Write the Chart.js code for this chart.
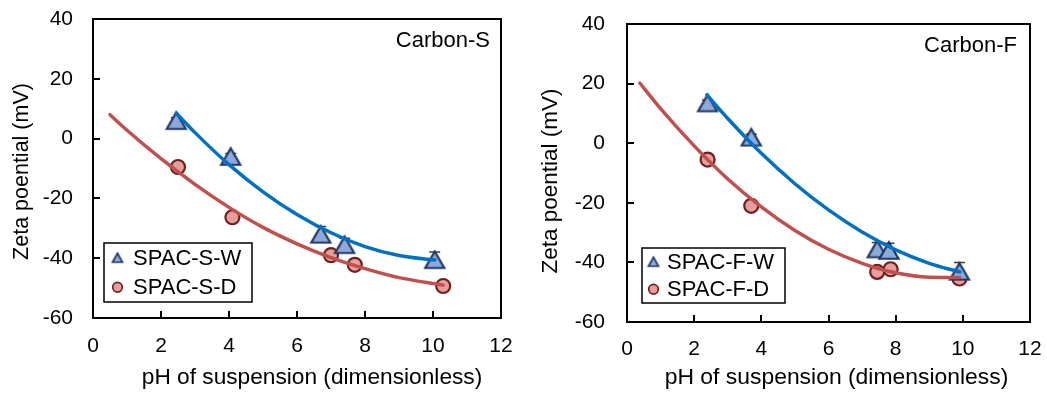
<!DOCTYPE html>
<html>
<head>
<meta charset="utf-8">
<script src="https://cdn.jsdelivr.net/npm/chart.js@4.4.1/dist/chart.umd.min.js"></script>
<style>
  html, body { margin: 0; padding: 0; background: #fff; }
  #wrap { position: relative; width: 1047px; height: 396px; overflow: hidden; }
  .panel { position: absolute; top: 0; }
  #left { left: 0; }
  #right { left: 524px; }
</style>
</head>
<body>
<div id="wrap">
  <div class="panel" id="left"><canvas id="chartS" width="524" height="396"></canvas></div>
  <div class="panel" id="right"><canvas id="chartF" width="523" height="396"></canvas></div>
</div>
<script>
// ---- axis ticks ----
const xTicks = [0, 2, 4, 6, 8, 10, 12];
const yTicks = [-60, -40, -20, 0, 20, 40];

// ---- Carbon-S measurements ----
const phSW   = [2.45, 4.05, 6.7, 7.4, 10.05];
const zetaSW = [6, -6, -32, -35.5, -40.5];
const errSW  = [1, 1, 2.6, 2.2, 2.6];
const phSD   = [2.5, 4.1, 7.0, 7.7, 10.3];
const zetaSD = [-9.5, -26.3, -39, -42.2, -49.3];

// Carbon-S polynomial trendlines
const trendSWx = [2.45, 3, 4, 5, 6, 7, 8, 9, 10.05];
const trendSWy = [8.5, 2.0, -8.7, -17.8, -25.4, -31.5, -36.1, -39.1, -40.6];
const trendSDx = [0.5, 1, 2, 3, 4, 5, 6, 7, 8, 9, 10.3];
const trendSDy = [8.0, 2.8, -6.7, -15.3, -23.0, -29.7, -35.2, -39.8, -43.5, -46.5, -49.0];

// ---- Carbon-F measurements ----
const phFW   = [2.4, 3.7, 7.45, 7.8, 9.9];
const zetaFW = [13.5, 2, -35.5, -36, -43];
const errFW  = [1, 1, 2.2, 2.4, 3];
const phFD   = [2.4, 3.7, 7.45, 7.85, 9.9];
const zetaFD = [-5.5, -21, -43.2, -42.3, -45.4];

// Carbon-F polynomial trendlines
const trendFWx = [2.38, 3, 4, 5, 6, 7, 8, 9, 9.91];
const trendFWy = [16.2, 8.3, -3.4, -13.6, -22.4, -29.8, -35.8, -40.3, -43.2];
const trendFDx = [0.38, 1, 2, 3, 4, 5, 6, 7, 8, 9, 9.91];
const trendFDy = [20.2, 11.6, -0.9, -12.0, -21.4, -29.3, -35.6, -40.3, -43.5, -45.0, -45.1];

// ---- axis titles ----
const xTitle = 'pH of suspension (dimensionless)';
const yTitle = 'Zeta poential (mV)';

// ---- styling ----
const FONT = '"Liberation Sans", Arial, Helvetica, sans-serif';
const BLUE_LINE = '#0070C0';
const RED_LINE = '#C0504D';
const TRI_FILL = '#8EAADB';
const TRI_EDGE = '#203864';
const DOT_FILL = '#E59E9C';
const DOT_EDGE = '#6E1F1F';

const pts = (xs, ys) => xs.map((x, i) => ({ x, y: ys[i] }));

// triangle marker centred on its bounding box
function triangleImage(w, h, lw) {
  const c = document.createElement('canvas');
  const pad = lw + 1;
  c.width = Math.ceil(w + 2 * pad);
  c.height = Math.ceil(h + 2 * pad);
  const g = c.getContext('2d');
  const cx = c.width / 2, cy = c.height / 2;
  g.beginPath();
  g.moveTo(cx, cy - h / 2);
  g.lineTo(cx + w / 2, cy + h / 2);
  g.lineTo(cx - w / 2, cy + h / 2);
  g.closePath();
  g.fillStyle = TRI_FILL;
  g.fill();
  g.lineWidth = lw;
  g.lineJoin = 'miter';
  g.strokeStyle = TRI_EDGE;
  g.stroke();
  return c;
}
const triMarker = triangleImage(19, 16.5, 2.2);
const triLegend = triangleImage(10, 9, 1.7);

// plot frame with inward tick marks
const framePlugin = {
  id: 'frame',
  afterDatasetsDraw(chart) {
    const { ctx, chartArea: a, scales: { x, y } } = chart;
    ctx.save();
    ctx.strokeStyle = '#000';
    ctx.lineWidth = 2;
    ctx.strokeRect(a.left, a.top, a.right - a.left, a.bottom - a.top);
    ctx.beginPath();
    x.ticks.forEach(t => {
      if (t.value > x.min && t.value < x.max) {
        const px = Math.round(x.getPixelForValue(t.value));
        ctx.moveTo(px, a.bottom);
        ctx.lineTo(px, a.bottom - 7);
      }
    });
    y.ticks.forEach(t => {
      if (t.value > y.min && t.value < y.max) {
        const py = Math.round(y.getPixelForValue(t.value));
        ctx.moveTo(a.left, py);
        ctx.lineTo(a.left + 7, py);
      }
    });
    ctx.stroke();
    ctx.restore();
  }
};

// upper error bars, drawn beneath the markers
const errorBarPlugin = {
  id: 'errorBars',
  beforeDatasetsDraw(chart) {
    const { ctx, scales: { x, y } } = chart;
    ctx.save();
    ctx.strokeStyle = '#3F3F3F';
    ctx.lineWidth = 1.5;
    chart.data.datasets.forEach(ds => {
      if (!ds.errors) return;
      ds.data.forEach((p, i) => {
        const px = x.getPixelForValue(p.x);
        const py = y.getPixelForValue(p.y);
        const top = y.getPixelForValue(p.y + ds.errors[i]);
        ctx.beginPath();
        ctx.moveTo(px, py);
        ctx.lineTo(px, top);
        ctx.moveTo(px - 5.5, top);
        ctx.lineTo(px + 5.5, top);
        ctx.stroke();
      });
    });
    ctx.restore();
  }
};

// axis titles, placed relative to the plot area
const axisTitlePlugin = {
  id: 'axisTitles',
  afterDraw(chart, args, o) {
    const { ctx, chartArea: a } = chart;
    ctx.save();
    ctx.fillStyle = '#000';
    ctx.textAlign = 'center';
    ctx.textBaseline = 'middle';
    ctx.font = `${o.xSize}px ${FONT}`;
    ctx.fillText(xTitle, (a.left + a.right) / 2 + o.xDx, o.xY);
    ctx.translate(o.yX, (a.top + a.bottom) / 2 + o.yDy);
    ctx.rotate(-Math.PI / 2);
    ctx.font = `${o.ySize}px ${FONT}`;
    ctx.fillText(yTitle, 0, 0);
    ctx.restore();
  }
};

// boxed legend inside the plot area + sample name label
const boxLegendPlugin = {
  id: 'boxLegend',
  afterDraw(chart, args, o) {
    const { ctx, chartArea: a } = chart;
    const items = chart.data.datasets.filter(d => d.inLegend);
    const x0 = a.left + o.dx;
    const y0 = a.bottom - o.dy - o.h;
    ctx.save();
    ctx.fillStyle = '#fff';
    ctx.fillRect(x0, y0, o.w, o.h);
    ctx.strokeStyle = '#000';
    ctx.lineWidth = 1.5;
    ctx.strokeRect(x0, y0, o.w, o.h);
    ctx.font = `22px ${FONT}`;
    ctx.textBaseline = 'middle';
    ctx.textAlign = 'left';
    items.forEach((d, i) => {
      const cy = y0 + o.h * (i + 0.5) / items.length;
      const sx = x0 + o.sym;
      if (d.inLegend === 'tri') {
        ctx.drawImage(triLegend, sx - triLegend.width / 2, cy - triLegend.height / 2);
      } else {
        ctx.beginPath();
        ctx.arc(sx, cy, 4.8, 0, Math.PI * 2);
        ctx.fillStyle = DOT_FILL;
        ctx.fill();
        ctx.lineWidth = 1.7;
        ctx.strokeStyle = DOT_EDGE;
        ctx.stroke();
      }
      ctx.fillStyle = '#000';
      ctx.fillText(d.label, x0 + o.text, cy + 1);
    });
    // sample name in the upper right corner
    ctx.textAlign = 'right';
    ctx.fillText(o.name, a.right - o.nameDx, a.top + o.nameDy);
    ctx.restore();
  }
};

function makePanel(canvasId, cfg) {
  const datasets = [
    {
      label: cfg.wLabel, inLegend: 'tri', order: 1,
      data: pts(cfg.wx, cfg.wy), errors: cfg.werr,
      pointStyle: triMarker, pointRadius: 10, showLine: false
    },
    {
      label: cfg.dLabel, inLegend: 'dot', order: 1,
      data: pts(cfg.dx, cfg.dy),
      pointStyle: 'circle', pointRadius: 7, pointBorderWidth: 2.2,
      pointBackgroundColor: DOT_FILL, pointBorderColor: DOT_EDGE, showLine: false
    },
    {
      label: cfg.wLabel + ' trend', order: 0,
      data: pts(cfg.twx, cfg.twy), showLine: true, pointRadius: 0,
      borderColor: BLUE_LINE, borderWidth: 3.5, borderCapStyle: 'round',
      cubicInterpolationMode: 'monotone', fill: false
    },
    {
      label: cfg.dLabel + ' trend', order: 0,
      data: pts(cfg.tdx, cfg.tdy), showLine: true, pointRadius: 0,
      borderColor: RED_LINE, borderWidth: 3.5, borderCapStyle: 'round',
      cubicInterpolationMode: 'monotone', fill: false
    }
  ];

  return new Chart(document.getElementById(canvasId), {
    type: 'scatter',
    data: { datasets },
    plugins: [errorBarPlugin, framePlugin, axisTitlePlugin, boxLegendPlugin],
    options: {
      responsive: false,
      animation: false,
      events: [],
      layout: { padding: { top: cfg.top, right: cfg.right, left: 0, bottom: 0 } },
      plugins: {
        legend: { display: false },
        tooltip: { enabled: false },
        boxLegend: cfg.legend,
        axisTitles: cfg.titles
      },
      scales: {
        x: {
          type: 'linear', min: 0, max: 12,
          afterBuildTicks: s => { s.ticks = xTicks.map(v => ({ value: v })); },
          afterFit: s => { s.height = cfg.xHeight; s.paddingLeft = 0; s.paddingRight = 0; },
          grid: { display: false, drawTicks: false },
          border: { display: false },
          ticks: { color: '#000', font: { family: FONT, size: 21 }, padding: cfg.xPad, maxRotation: 0 },
          title: { display: false }
        },
        y: {
          type: 'linear', min: -60, max: 40,
          afterBuildTicks: s => { s.ticks = yTicks.map(v => ({ value: v })); },
          afterFit: s => { s.width = cfg.yWidth; s.paddingTop = 0; s.paddingBottom = 0; },
          grid: { display: false, drawTicks: false },
          border: { display: false },
          ticks: { color: '#000', font: { family: FONT, size: 21 }, padding: cfg.yPad },
          title: { display: false }
        }
      }
    }
  });
}

makePanel('chartS', {
  wLabel: 'SPAC-S-W', dLabel: 'SPAC-S-D',
  wx: phSW, wy: zetaSW, werr: errSW, dx: phSD, dy: zetaSD,
  twx: trendSWx, twy: trendSWy, tdx: trendSDx, tdy: trendSDy,
  top: 19, right: 23, xHeight: 78, yWidth: 93,
  xPad: 16, yPad: 20,
  titles: { xSize: 22.7, xDx: 15, xY: 377.5, ySize: 21.5, yX: 22, yDy: 3 },
  legend: { dx: 11, dy: 16, w: 148, h: 59, sym: 13.5, text: 29, name: 'Carbon-S', nameDx: 11, nameDy: 22 }
});

makePanel('chartF', {
  wLabel: 'SPAC-F-W', dLabel: 'SPAC-F-D',
  wx: phFW, wy: zetaFW, werr: errFW, dx: phFD, dy: zetaFD,
  twx: trendFWx, twy: trendFWy, tdx: trendFDx, tdy: trendFDy,
  top: 24, right: 17, xHeight: 74, yWidth: 103,
  xPad: 15, yPad: 22,
  titles: { xSize: 22.9, xDx: 8, xY: 378, ySize: 22.5, yX: 27, yDy: 8 },
  legend: { dx: 15, dy: 19, w: 143, h: 55, sym: 11.5, text: 25, name: 'Carbon-F', nameDx: 13, nameDy: 22 }
});
</script>
</body>
</html>
